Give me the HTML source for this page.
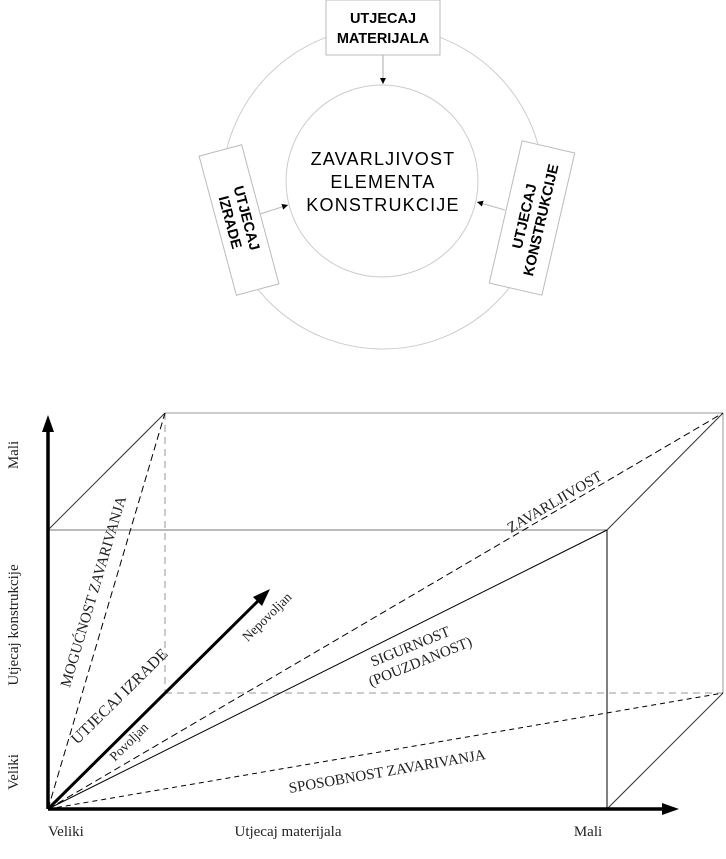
<!DOCTYPE html>
<html><head><meta charset="utf-8"><style>html,body{margin:0;padding:0;background:#fff}svg{display:block}</style></head><body>
<svg width="726" height="859" viewBox="0 0 726 859" xmlns="http://www.w3.org/2000/svg">
<defs>
<marker id="sa" viewBox="0 0 10 10" refX="10" refY="5" markerWidth="6" markerHeight="6" orient="auto"><path d="M0,0L10,5L0,10z" fill="#000"/></marker>
</defs>
<circle cx="383" cy="188" r="161" fill="none" stroke="#ccc" stroke-width="1"/>
<circle cx="382" cy="181" r="96" fill="none" stroke="#ccc" stroke-width="1"/>
<rect x="326" y="0" width="114" height="55" fill="#fff" stroke="#bbb"/>
<text x="383" y="23" font-family="Liberation Sans, sans-serif" font-weight="bold" font-size="14.5" text-anchor="middle">UTJECAJ</text>
<text x="383" y="43" font-family="Liberation Sans, sans-serif" font-weight="bold" font-size="14.5" text-anchor="middle">MATERIJALA</text>
<line x1="383" y1="55" x2="383" y2="84" stroke="#aaa" marker-end="url(#sa)"/>
<g font-family="Liberation Sans, sans-serif" font-size="18" text-anchor="middle" letter-spacing="1.2">
<text x="383" y="165">ZAVARLJIVOST</text>
<text x="383" y="188">ELEMENTA</text>
<text x="383" y="211">KONSTRUKCIJE</text>
</g>
<line x1="260" y1="214" x2="288" y2="205" stroke="#bbb" marker-end="url(#sa)"/>
<line x1="505" y1="210" x2="477" y2="202" stroke="#bbb" marker-end="url(#sa)"/>
<g transform="translate(239,220) rotate(-15)">
<rect x="-22" y="-72" width="44" height="144" fill="#fff" stroke="#bbb"/>
<g transform="rotate(90)" font-family="Liberation Sans, sans-serif" font-weight="bold" font-size="14.5" text-anchor="middle">
<text x="0" y="-3">UTJECAJ</text><text x="0" y="14">IZRADE</text></g>
</g>
<g transform="translate(532,218) rotate(13)">
<rect x="-27" y="-73" width="54" height="146" fill="#fff" stroke="#bbb"/>
<g transform="rotate(-90)" font-family="Liberation Sans, sans-serif" font-weight="bold" font-size="14.5" text-anchor="middle">
<text x="0" y="-3">UTJECAJ</text><text x="0" y="14">KONSTRUKCIJE</text></g>
</g>
<g fill="none">
<line x1="165" y1="413" x2="723" y2="413" stroke="#999"/>
<line x1="723" y1="413" x2="723" y2="693" stroke="#999"/>
<line x1="165" y1="413" x2="165" y2="693" stroke="#999" stroke-dasharray="7,5"/>
<line x1="165" y1="693" x2="723" y2="693" stroke="#999" stroke-dasharray="7,5"/>
<line x1="48" y1="530" x2="607" y2="530" stroke="#777"/>
<line x1="607" y1="530" x2="607" y2="809" stroke="#000"/>
<line x1="48" y1="530" x2="165" y2="413" stroke="#333"/>
<line x1="607" y1="530" x2="723" y2="413" stroke="#333"/>
<line x1="607" y1="809" x2="723" y2="693" stroke="#333"/>
<line x1="48" y1="809" x2="165" y2="413" stroke="#000" stroke-dasharray="7,4"/>
<line x1="48" y1="809" x2="723" y2="413" stroke="#000" stroke-dasharray="7,4"/>
<line x1="48" y1="809" x2="607" y2="530" stroke="#000"/>
<line x1="48" y1="809" x2="723" y2="693" stroke="#000" stroke-dasharray="5,4"/>
<line x1="48" y1="809" x2="48" y2="428" stroke="#000" stroke-width="3.5"/>
<line x1="48" y1="809" x2="665" y2="809" stroke="#000" stroke-width="3.5"/>
<line x1="48" y1="809" x2="262" y2="597" stroke="#000" stroke-width="3"/>
</g>
<path d="M48,415 L42,432 L54,432z"/>
<path d="M679,809 L662,803 L662,815z"/>
<path d="M270,589 L253,597 L262,606z"/>
<g font-family="Liberation Serif, serif" font-size="15" fill="#222">
<text transform="translate(18,455) rotate(-90)" text-anchor="middle">Mali</text>
<text transform="translate(18,625) rotate(-90)" text-anchor="middle">Utjecaj konstrukcije</text>
<text transform="translate(18,772) rotate(-90)" text-anchor="middle">Veliki</text>
<text x="48" y="836">Veliki</text>
<text x="288" y="836" text-anchor="middle">Utjecaj materijala</text>
<text x="588" y="836" text-anchor="middle">Mali</text>
<text transform="translate(98,593) rotate(-73.5)" text-anchor="middle">MOGUĆNOST ZAVARIVANJA</text>
<text transform="translate(557,506) rotate(-30.4)" text-anchor="middle">ZAVARLJIVOST</text>
<text transform="translate(412,651) rotate(-22)" text-anchor="middle">SIGURNOST</text>
<text transform="translate(422,666) rotate(-22)" text-anchor="middle">(POUZDANOST)</text>
<text transform="translate(388,776) rotate(-9.8)" text-anchor="middle">SPOSOBNOST ZAVARIVANJA</text>
<text transform="translate(123,700) rotate(-44.6)" text-anchor="middle" font-size="16">UTJECAJ IZRADE</text>
<text transform="translate(132,745) rotate(-44.6)" text-anchor="middle" font-size="13.5">Povoljan</text>
<text transform="translate(270,620) rotate(-44.6)" text-anchor="middle" font-size="13.5">Nepovoljan</text>
</g>
</svg>
</body></html>
